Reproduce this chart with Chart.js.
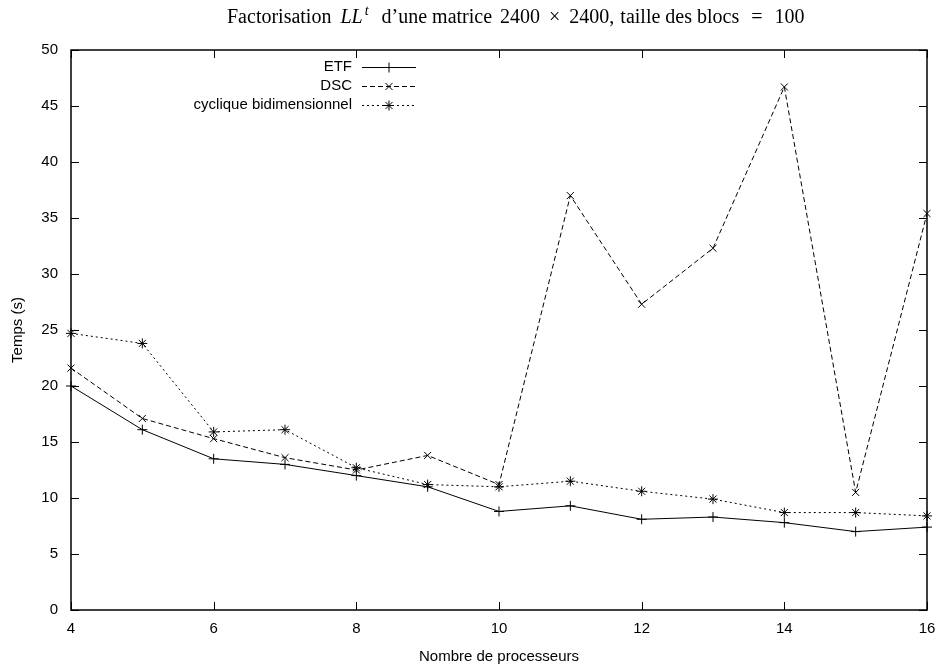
<!DOCTYPE html>
<html>
<head>
<meta charset="utf-8">
<script src="https://cdn.jsdelivr.net/npm/chart.js@4/dist/chart.umd.min.js"></script>
<style>
body { margin: 0; background: #fff; }
</style>
</head>
<body>
<canvas id="graphe" width="937" height="666"></canvas>
<script>
// donnees
var processeurs = [4, 5, 6, 7, 8, 9, 10, 11, 12, 13, 14, 15, 16];
var tempsETF = [20.0, 16.1, 13.5, 13.0, 12.0, 11.0, 8.8, 9.3, 8.1, 8.3, 7.8, 7.0, 7.4];
var tempsDSC = [21.6, 17.1, 15.3, 13.6, 12.5, 13.8, 11.2, 37.0, 27.3, 32.3, 46.7, 10.5, 35.4];
var tempsCyclique = [24.7, 23.8, 15.9, 16.1, 12.7, 11.2, 11.0, 11.5, 10.6, 9.9, 8.7, 8.7, 8.4];
var nomsSeries = ['ETF', 'DSC', 'cyclique bidimensionnel'];
var ticksX = [4, 6, 8, 10, 12, 14, 16];
var ticksY = [0, 5, 10, 15, 20, 25, 30, 35, 40, 45, 50];

var police = '"Liberation Sans", Arial, sans-serif';
var serif = '"Liberation Serif", serif';

function points(valeurs) {
    var res = [];
    for (var i = 0; i < processeurs.length; i++) {
        res.push({x: processeurs[i], y: valeurs[i]});
    }
    return res;
}

// titre facon LaTeX : morceaux mis bout a bout avec un espace apres chacun
var titrePlugin = {
    id: 'titre',
    afterDraw: function (chart) {
        var ctx = chart.ctx;
        var base = 23;
        var morceaux = [
            {t: 'Factorisation', f: '20px ' + serif, dy: 0, g: 9},
            {t: 'LL', f: 'italic 20px ' + serif, dy: 0, g: 2},
            {t: 't', f: 'italic 14px ' + serif, dy: -8, g: 13},
            {t: 'd\u2019une matrice', f: '20px ' + serif, dy: 0, g: 8},
            {t: '2400', f: '20px ' + serif, dy: 0, g: 9},
            {t: '\u00d7', f: '20px ' + serif, dy: 0, g: 9},
            {t: '2400,', f: '20px ' + serif, dy: 0, g: 6},
            {t: 'taille des blocs', f: '20px ' + serif, dy: 0, g: 12},
            {t: '=', f: '20px ' + serif, dy: 0, g: 12},
            {t: '100', f: '20px ' + serif, dy: 0, g: 0}
        ];
        ctx.save();
        ctx.fillStyle = '#000';
        ctx.textBaseline = 'alphabetic';
        ctx.textAlign = 'left';
        var x = 227;
        morceaux.forEach(function (m) {
            ctx.font = m.f;
            ctx.fillText(m.t, x, base + m.dy);
            x += ctx.measureText(m.t).width + m.g;
        });
        ctx.restore();
    }
};

// cadre et graduations vers l'interieur (style gnuplot)
var cadrePlugin = {
    id: 'cadre',
    afterDatasetsDraw: function (chart) {
        var ctx = chart.ctx;
        var a = chart.chartArea;
        var sx = chart.scales.x, sy = chart.scales.y;
        ctx.save();
        ctx.strokeStyle = '#000';
        ctx.lineWidth = 1;
        ctx.beginPath();
        ticksX.forEach(function (v) {
            var px = Math.round(sx.getPixelForValue(v)) + 0.5;
            ctx.moveTo(px, a.bottom); ctx.lineTo(px, a.bottom - 8);
            ctx.moveTo(px, a.top); ctx.lineTo(px, a.top + 8);
        });
        ticksY.forEach(function (v) {
            var py = Math.round(sy.getPixelForValue(v)) + 0.5;
            ctx.moveTo(a.left, py); ctx.lineTo(a.left + 8, py);
            ctx.moveTo(a.right, py); ctx.lineTo(a.right - 8, py);
        });
        ctx.stroke();
        ctx.lineWidth = 1.5;
        ctx.strokeRect(a.left, a.top, a.right - a.left, a.bottom - a.top);
        ctx.restore();
    }
};

// legende : texte a gauche, echantillon a droite
var legendePlugin = {
    id: 'legendeGnu',
    afterDraw: function (chart) {
        var ctx = chart.ctx;
        ctx.save();
        chart.data.datasets.forEach(function (ds, i) {
            var y = 67 + i * 19;
            ctx.font = '15px ' + police;
            ctx.fillStyle = '#000';
            ctx.textAlign = 'right';
            ctx.textBaseline = 'middle';
            ctx.fillText(ds.label, 352, y);
            ctx.strokeStyle = '#000';
            ctx.lineWidth = 1;
            ctx.setLineDash(ds.borderDash || []);
            ctx.beginPath();
            ctx.moveTo(362, y + 0.5);
            ctx.lineTo(416, y + 0.5);
            ctx.stroke();
            ctx.setLineDash([]);
            Chart.helpers.drawPoint(ctx, {
                pointStyle: ds.pointStyle,
                radius: ds.pointRadius,
                rotation: 0,
                borderWidth: 1
            }, 389, y + 0.5);
        });
        ctx.restore();
    }
};

var ctx = document.getElementById('graphe');
var graphe = new Chart(ctx, {
    type: 'line',
    data: {
        datasets: [{
            label: nomsSeries[0],
            data: points(tempsETF),
            borderColor: '#000',
            backgroundColor: '#000',
            borderWidth: 1,
            pointStyle: 'cross',
            pointRadius: 5,
            pointBorderWidth: 1,
            tension: 0,
            clip: false
        }, {
            label: nomsSeries[1],
            data: points(tempsDSC),
            borderColor: '#000',
            backgroundColor: '#000',
            borderWidth: 1,
            borderDash: [5, 3],
            pointStyle: 'crossRot',
            pointRadius: 5,
            pointBorderWidth: 1,
            tension: 0,
            clip: false
        }, {
            label: nomsSeries[2],
            data: points(tempsCyclique),
            borderColor: '#000',
            backgroundColor: '#000',
            borderWidth: 1,
            borderDash: [2, 3],
            pointStyle: 'star',
            pointRadius: 5,
            pointBorderWidth: 1,
            tension: 0,
            clip: false
        }]
    },
    options: {
        responsive: false,
        animation: false,
        layout: {padding: {top: 50, right: 10, left: 0, bottom: 0}},
        plugins: {
            legend: {display: false},
            tooltip: {enabled: false}
        },
        scales: {
            x: {
                type: 'linear',
                min: 4,
                max: 16,
                afterFit: function (s) {
                    s.height = 56;
                    s.paddingLeft = 0;
                    s.paddingRight = 0;
                },
                afterBuildTicks: function (s) {
                    s.ticks = ticksX.map(function (v) { return {value: v}; });
                },
                grid: {display: false, drawTicks: false},
                border: {display: false},
                ticks: {color: '#000', padding: 10, font: {family: police, size: 15}},
                title: {
                    display: true,
                    text: 'Nombre de processeurs',
                    color: '#000',
                    font: {family: police, size: 15},
                    padding: {top: 2, bottom: 0}
                }
            },
            y: {
                min: 0,
                max: 50,
                afterFit: function (s) {
                    s.width = 71;
                    s.paddingTop = 0;
                    s.paddingBottom = 0;
                },
                afterBuildTicks: function (s) {
                    s.ticks = ticksY.map(function (v) { return {value: v}; });
                },
                grid: {display: false, drawTicks: false},
                border: {display: false},
                ticks: {color: '#000', padding: 13, font: {family: police, size: 15}},
                title: {
                    display: true,
                    text: 'Temps (s)',
                    color: '#000',
                    font: {family: police, size: 15},
                    padding: {top: 9, bottom: 0}
                }
            }
        }
    },
    plugins: [titrePlugin, cadrePlugin, legendePlugin]
});
</script>
</body>
</html>
